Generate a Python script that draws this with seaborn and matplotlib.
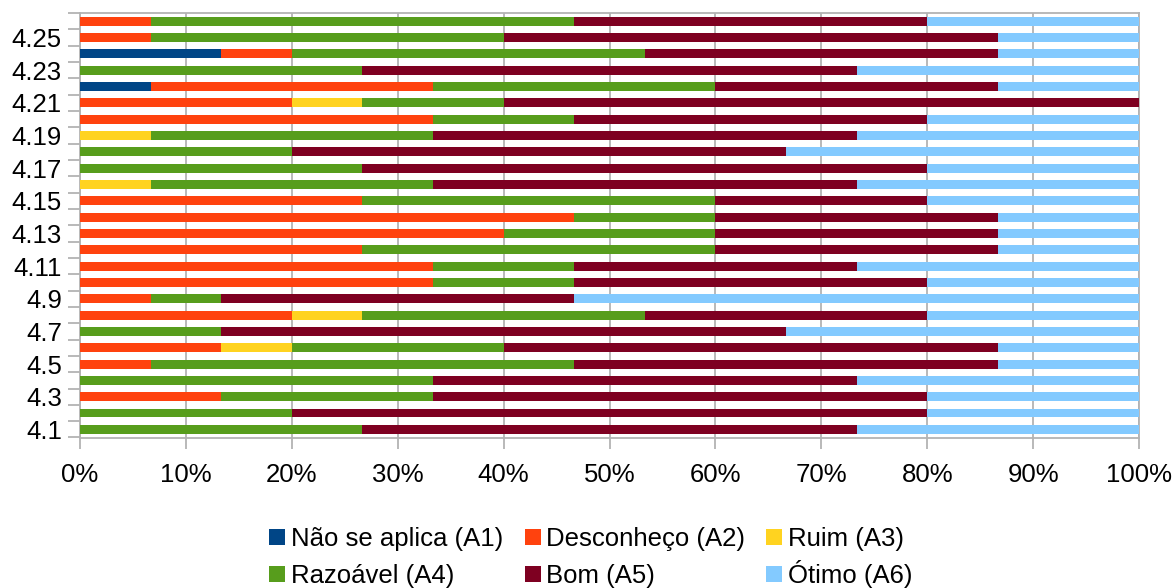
import numpy as np
import pandas as pd
import matplotlib
matplotlib.use("Agg")
import matplotlib.pyplot as plt
import seaborn as sns
from matplotlib.patches import Rectangle
from matplotlib.ticker import FixedLocator, FixedFormatter, NullFormatter

# ---- data (counts of answers, categories listed from 4.1 to 4.26) ----
categories = ["4.1", "4.2", "4.3", "4.4", "4.5", "4.6", "4.7", "4.8", "4.9",
              "4.10", "4.11", "4.12", "4.13", "4.14", "4.15", "4.16", "4.17",
              "4.18", "4.19", "4.20", "4.21", "4.22", "4.23", "4.24", "4.25", "4.26"]
a1 = [0, 0, 0, 0, 0, 0, 0, 0, 0, 0, 0, 0, 0, 0, 0, 0, 0, 0, 0, 0, 0, 1, 0, 2, 0, 0]
a2 = [0, 0, 2, 0, 1, 2, 0, 3, 1, 5, 5, 4, 6, 7, 4, 0, 0, 0, 0, 5, 3, 4, 0, 1, 1, 1]
a3 = [0, 0, 0, 0, 0, 1, 0, 1, 0, 0, 0, 0, 0, 0, 0, 1, 0, 0, 1, 0, 1, 0, 0, 0, 0, 0]
a4 = [4, 3, 3, 5, 6, 3, 2, 4, 1, 2, 2, 5, 3, 2, 5, 4, 4, 3, 4, 2, 2, 4, 4, 5, 5, 6]
a5 = [7, 9, 7, 6, 6, 7, 8, 4, 5, 5, 4, 4, 4, 4, 3, 6, 8, 7, 6, 5, 9, 4, 7, 5, 7, 5]
a6 = [4, 3, 3, 4, 2, 2, 5, 3, 8, 3, 4, 2, 2, 2, 3, 4, 3, 5, 4, 3, 0, 2, 4, 2, 2, 3]
series_names = ["Não se aplica (A1)", "Desconheço (A2)", "Ruim (A3)",
                "Razoável (A4)", "Bom (A5)", "Ótimo (A6)"]
colors = ["#004586", "#ff420e", "#ffd320", "#579d1c", "#7e0021", "#83caff"]
x_ticks = [0, 10, 20, 30, 40, 50, 60, 70, 80, 90, 100]
x_tick_labels = ["0%", "10%", "20%", "30%", "40%", "50%", "60%", "70%", "80%", "90%", "100%"]

# ---- build table ----
counts = pd.DataFrame(dict(zip(series_names, [a1, a2, a3, a4, a5, a6])), index=categories)
pct = counts.div(counts.sum(axis=1), axis=0) * 100
cum = pct.cumsum(axis=1)
order = categories[::-1]  # top to bottom

sns.set_theme(style="white")
plt.rcParams["font.family"] = ["Liberation Sans", "DejaVu Sans"]
FS = 18.5
GRID = "#b3b3b3"
W, H = 1173, 588

fig = plt.figure(figsize=(W / 100, H / 100), dpi=100)
ax = fig.add_axes([80 / W, 1 - 437.5 / H, (1139 - 80) / W, (437.5 - 13) / H])

for k in range(len(series_names) - 1, -1, -1):
    name = series_names[k]
    df = pd.DataFrame({"cat": categories, "val": cum[name].values})
    sns.barplot(data=df, x="val", y="cat", order=order, orient="y",
                color=colors[k], width=0.55, linewidth=0, errorbar=None,
                saturation=1, ax=ax, zorder=3)

ax.set_xlim(0, 100)
ax.set_ylim(len(categories) - 0.5, -0.5)
ax.set_xlabel("")
ax.set_ylabel("")

ax.set_xticks(x_ticks)
ax.set_xticklabels(x_tick_labels, fontsize=FS, color="black")
ax.xaxis.grid(True, color=GRID, linewidth=1.3, zorder=0)
ax.yaxis.grid(False)
ax.set_axisbelow(True)

# y ticks: marks at category boundaries, labels on every other category
n = len(categories)
ax.yaxis.set_major_locator(FixedLocator(np.arange(-0.5, n, 1.0)))
ax.yaxis.set_major_formatter(NullFormatter())
ax.yaxis.set_minor_locator(FixedLocator(np.arange(n)))
ylabels = [c if (categories.index(c) % 2 == 0) else "" for c in order]
ax.yaxis.set_minor_formatter(FixedFormatter(ylabels))
ax.tick_params(axis="y", which="major", length=8.5, width=1.3, color=GRID, left=True)
ax.tick_params(axis="y", which="minor", length=0, labelsize=FS, pad=13, labelcolor="black")
ax.tick_params(axis="x", which="major", length=8, width=1.3, color=GRID, bottom=True, pad=10)

for s in ax.spines.values():
    s.set_visible(True)
    s.set_color(GRID)
    s.set_linewidth(1.3)

# ---- legend: two rows of three entries ----
legend_rows = [[0, 1, 2], [3, 4, 5]]
marker_x = [269, 525, 766]
text_x = [291, 546, 788]
baseline_y = [546, 582.5]
marker_top = [529, 566]
msize = 15.5
for r, row in enumerate(legend_rows):
    for c, i in enumerate(row):
        fig.add_artist(Rectangle((marker_x[c] / W, 1 - (marker_top[r] + msize) / H),
                                 msize / W, msize / H, transform=fig.transFigure,
                                 facecolor=colors[i], edgecolor="none"))
        fig.text(text_x[c] / W, 1 - baseline_y[r] / H, series_names[i],
                 fontsize=FS, color="black", ha="left", va="baseline")

fig.savefig("out.png", dpi=100)
